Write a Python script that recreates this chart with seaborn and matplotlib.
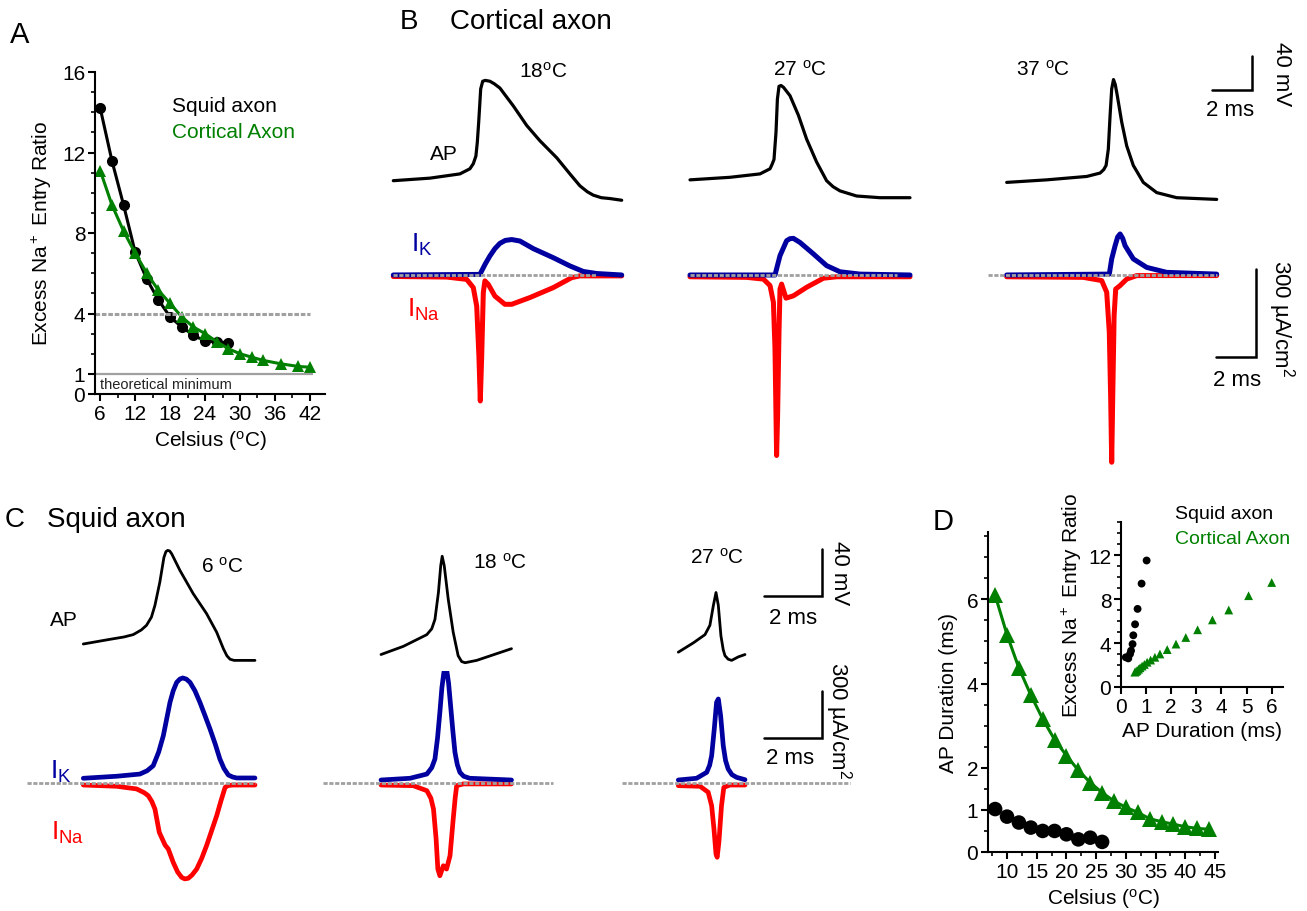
import matplotlib
matplotlib.use("Agg")
import matplotlib.pyplot as plt
import seaborn as sns
from matplotlib.ticker import MultipleLocator

# ---------------- data ----------------
# Panel A: excess Na+ entry ratio vs temperature
a_squid_temp = [6, 8, 10, 12, 14, 16, 18, 20, 22, 24, 26, 28]
a_squid_ratio = [14.2, 11.6, 9.4, 7.05, 5.7, 4.67, 3.83, 3.33, 2.92, 2.63, 2.58, 2.55]
a_ctx_temp = [6, 8, 10, 12, 14, 16, 18, 20, 22, 24, 26, 28, 30, 32, 34, 37, 40, 42]
a_ctx_ratio = [11.1, 9.4, 8.1, 7.0, 6.0, 5.15, 4.5, 3.83, 3.33, 3.0, 2.6, 2.25, 2.0,
               1.83, 1.67, 1.5, 1.37, 1.33]

# Panel D: AP duration vs temperature
d_squid_temp = [8, 10, 12, 14, 16, 18, 20, 22, 24, 26]
d_squid_dur = [1.02, 0.84, 0.70, 0.58, 0.5, 0.5, 0.42, 0.30, 0.34, 0.24]
d_ctx_temp = [8, 10, 12, 14, 16, 18, 20, 22, 24, 26, 28, 30, 32, 34, 36, 38, 40, 42, 44]
d_ctx_dur = [6.1, 5.16, 4.37, 3.73, 3.16, 2.67, 2.29, 1.94, 1.65, 1.41, 1.21, 1.06,
             0.94, 0.79, 0.72, 0.66, 0.60, 0.56, 0.54]

# Panel D inset: ratio vs AP duration
ins_squid_dur = [0.19, 0.29, 0.36, 0.40, 0.46, 0.49, 0.56, 0.66, 0.82, 1.02]
ins_squid_ratio = [2.7, 2.6, 3.0, 3.3, 3.9, 4.7, 5.7, 7.1, 9.4, 11.5]
ins_ctx_dur = [6.0, 5.08, 4.29, 3.64, 3.05, 2.58, 2.19, 1.84, 1.55, 1.35, 1.18, 1.04,
               0.93, 0.84, 0.76, 0.70, 0.64, 0.60, 0.55]
ins_ctx_ratio = [9.5, 8.3, 7.0, 6.1, 5.2, 4.5, 3.9, 3.4, 3.0, 2.7, 2.45, 2.25, 2.05,
                 1.9, 1.75, 1.62, 1.5, 1.42, 1.35]

# Panel B: cortical axon traces (ms, mV, uA/cm2)
b18_ap_t = [0, 1.83, 3.33, 3.83, 4.0, 4.13, 4.2, 4.27, 4.37, 4.47, 4.6, 4.83, 5.05,
            5.33, 6.0, 6.67, 7.33, 8.17, 8.83, 9.33, 9.7, 10.0, 10.4, 10.83, 11.42]
b18_ap_v = [-75, -72, -67, -61, -55, -46, -30, -6, 33, 42, 43, 42, 39, 34, 13, -10,
            -28, -48, -67, -81, -88, -92, -95, -96, -98]
b18_ik_t = [0, 4.33, 4.6, 4.83, 5.08, 5.33, 5.6, 5.92, 6.33, 7.0, 8.0, 8.83, 9.5, 10.17,
            11.42]
b18_ik = [0, 2, 38, 65, 90, 108, 118, 121, 116, 90, 59, 31, 12, 5, 0]
b18_ina_t = [0, 2.67, 3.67, 4.0, 4.17, 4.28, 4.35, 4.42, 4.5, 4.58, 4.75, 5.08, 5.58,
             5.92, 6.83, 8.0, 8.92, 9.33, 11.42]
b18_ina = [-5, -7, -15, -43, -106, -276, -430, -276, -60, -20, -32, -72, -100, -100,
           -77, -43, -9, -3, -3]

b27_ap_t = [0, 2, 3.5, 4, 4.1, 4.2, 4.3, 4.37, 4.45, 4.55, 4.67, 5.0, 5.42, 5.83, 6.33,
            6.83, 7.15, 7.5, 8.33, 9.5, 11.0]
b27_ap_v = [-74, -71, -67, -61, -56, -50, -18, 21, 36, 37, 35, 25, 2, -26, -53, -75,
            -82, -87, -93, -95, -95]
b27_ik_t = [0, 4.25, 4.5, 4.83, 5.0, 5.17, 5.5, 6.17, 6.83, 7.5, 8.5, 11.0]
b27_ik = [0, 0, 66, 117, 124, 125, 111, 72, 32, 11, 3, 0]
b27_ina_t = [0, 2.83, 3.67, 4.0, 4.17, 4.25, 4.3, 4.33, 4.38, 4.45, 4.5, 4.58, 4.8,
             5.17, 5.83, 6.67, 7.33, 11.0]
b27_ina = [-6, -8, -14, -36, -93, -252, -480, -616, -480, -195, -48, -31, -79, -71,
           -42, -11, -6, -6]

b37_ap_t = [0, 2.0, 4.0, 4.67, 4.85, 4.97, 5.08, 5.17, 5.25, 5.34, 5.43, 5.53, 5.75,
            6.0, 6.33, 6.83, 7.5, 8.5, 10.5]
b37_ap_v = [-77, -74, -70, -66, -62, -57, -38, 2, 33, 44, 38, 25, -6, -34, -57, -77,
            -89, -95, -97]
b37_ik_t = [0, 5.13, 5.25, 5.42, 5.55, 5.67, 5.8, 5.92, 6.33, 7.0, 8.0, 10.5]
b37_ik = [0, 3, 55, 100, 130, 140, 125, 100, 55, 26, 9, 3]
b37_ina_t = [0, 3.83, 4.75, 5.0, 5.13, 5.2, 5.25, 5.3, 5.37, 5.45, 5.67, 6.0, 6.5, 10.5]
b37_ina = [-6, -8, -19, -59, -195, -423, -639, -423, -139, -48, -36, -14, -2, -2]

# Panel C: squid axon traces
c6_ap_t = [0, 0.92, 1.4, 1.72, 2.0, 2.18, 2.35, 2.47, 2.64, 2.78, 2.85, 2.91, 2.98, 3.05,
           3.33, 3.79, 4.25, 4.6, 4.83, 4.95, 5.06, 5.2, 5.4, 5.92]
c6_ap_v = [-60, -56, -54, -52, -48, -44, -37, -27, -7, 14, 19, 20, 19.5, 17, 3, -17,
           -34, -50, -64, -70, -73, -74, -74, -74]
c6_ik_t = [0, 1.15, 1.95, 2.2, 2.41, 2.6, 2.76, 2.99, 3.1, 3.22, 3.33, 3.43, 3.55, 3.68,
           3.85, 4.02, 4.2, 4.37, 4.55, 4.71, 4.85, 5.0, 5.15, 5.29, 5.92]
c6_ik = [32, 45, 59, 80, 112, 200, 304, 517, 590, 644, 665, 672, 665, 644, 590, 517,
         430, 346, 250, 155, 95, 53, 40, 34, 34]
c6_ina_t = [0, 1.15, 1.84, 2.1, 2.24, 2.36, 2.47, 2.62, 2.82, 2.93, 3.10, 3.25, 3.39,
            3.5, 3.62, 3.75, 3.91, 4.08, 4.25, 4.6, 4.75, 4.89, 5.0, 5.17, 5.92]
c6_ina = [-11, -19, -36, -60, -79, -115, -164, -313, -394, -419, -504, -565, -600,
          -610, -606, -585, -547, -480, -398, -207, -110, -26, -14, -11, -11]

c18_ap_t = [0, 0.77, 1.58, 1.75, 1.86, 1.98, 2.06, 2.11, 2.18, 2.32, 2.49, 2.66, 2.78,
            2.9, 3.3, 4.5]
c18_ap_v = [-69, -62, -52, -47, -39, -16, 7, 15, 7, -22, -50, -70, -75, -76, -74, -64]
c18_ik_t = [0, 1.0, 1.58, 1.75, 1.86, 1.95, 2.03, 2.1, 2.17, 2.26, 2.33, 2.4, 2.48, 2.55,
            2.63, 2.72, 2.85, 3.06, 4.5]
c18_ik = [21, 32, 59, 100, 155, 290, 453, 610, 710, 729, 640, 495, 330, 198, 120, 70,
          45, 32, 21]
c18_ina_t = [0, 1.11, 1.58, 1.72, 1.81, 1.9, 1.96, 2.03, 2.15, 2.26, 2.38, 2.49, 2.56,
             2.61, 2.84, 4.5]
c18_ina = [-11, -15, -47, -95, -164, -355, -547, -590, -526, -547, -462, -228, -90,
           -15, -4, -4]

c27_ap_t = [0, 0.52, 0.92, 1.09, 1.21, 1.3, 1.38, 1.47, 1.55, 1.61, 1.72, 1.84, 2.07,
            2.3]
c27_ap_v = [-67, -59, -52, -44, -27, -16, -27, -53, -65, -70, -73, -74, -71, -69]
c27_ik_t = [0, 0.63, 0.98, 1.08, 1.15, 1.24, 1.32, 1.38, 1.46, 1.55, 1.63, 1.72, 1.85,
            2.01, 2.3]
c27_ik = [21, 32, 70, 115, 176, 346, 517, 538, 431, 240, 145, 91, 55, 38, 23]
c27_ina_t = [0, 0.75, 1.03, 1.15, 1.23, 1.3, 1.34, 1.4, 1.49, 1.57, 1.78, 2.3]
c27_ina = [-15, -19, -57, -143, -292, -451, -472, -376, -143, -26, -11, -11]

# zero-current reference line extents (ms)
b_zero_span = [(0, 10.2), (0, 10.35), (-0.93, 10.5)]
c_zero_span = [(-1.94, 5.92), (-2.0, 5.93), (-1.94, 5.92)]

b_temps = ["18$^o$C", "27 $^o$C", "37 $^o$C"]
c_temps = ["6 $^o$C", "18 $^o$C", "27 $^o$C"]

# ---------------- style ----------------
sns.set_style("ticks")
plt.rcParams["font.family"] = ["Liberation Sans", "DejaVu Sans"]
plt.rcParams["mathtext.default"] = "regular"
plt.rcParams["text.color"] = "black"
plt.rcParams["axes.labelcolor"] = "black"
plt.rcParams["axes.edgecolor"] = "black"
plt.rcParams["axes.linewidth"] = 1.5
for k in ["xtick", "ytick"]:
    plt.rcParams[k + ".major.width"] = 1.5
    plt.rcParams[k + ".minor.width"] = 1.2
    plt.rcParams[k + ".major.size"] = 5
    plt.rcParams[k + ".minor.size"] = 3
    plt.rcParams[k + ".labelsize"] = 15
    plt.rcParams[k + ".major.pad"] = 2
    plt.rcParams[k + ".color"] = "black"
    plt.rcParams[k + ".labelcolor"] = "black"

GREEN = "#008000"
BLUE = "#0000a0"
RED = "#ff0000"
GRAY = "#a0a0a0"
FS = 15

W, H = 1307, 912
fig = plt.figure(figsize=(W / 100, H / 100), dpi=100)


def px_axes(left, top, width, height):
    return fig.add_axes([left / W, 1 - (top + height) / H, width / W, height / H])


def trace_axes(x0, left, width, top, height, ppm, ppu, y_ref, v_ref):
    ax = px_axes(left, top, width, height)
    ax.set_xlim((left - x0) / ppm, (left + width - x0) / ppm)
    ax.set_ylim(v_ref - (top + height - y_ref) / ppu, v_ref + (y_ref - top) / ppu)
    ax.axis("off")
    return ax


def trace(ax, t, v, color, lw):
    sns.lineplot(x=t, y=v, ax=ax, color=color, linewidth=lw, estimator=None,
                 sort=False, legend=False)


def ftext(x, y, s, **kw):
    kw.setdefault("fontsize", FS)
    kw.setdefault("va", "center")
    kw.setdefault("color", "black")
    fig.text(x / W, 1 - y / H, s, **kw)


def scale_bar(ax, t, v, dt, dv):
    ax.plot([t - dt, t, t], [v, v, v + dv], color="black", lw=1.8,
            solid_joinstyle="miter", clip_on=False)


# ---------------- Panel A ----------------
axA = px_axes(95, 73, 230, 322)
sns.lineplot(x=a_squid_temp, y=a_squid_ratio, ax=axA, color="black", marker="o",
             markersize=8, markeredgewidth=0, linewidth=2.2)
sns.lineplot(x=a_ctx_temp, y=a_ctx_ratio, ax=axA, color=GREEN, marker="^",
             markersize=9, markeredgewidth=0, linewidth=2.2)
axA.hlines(4, 5.1, 42, color=GRAY, lw=2.2, linestyles=(0, (1.5, 0.6)))
axA.hlines(1, 5.1, 42.6, color=GRAY, lw=1.6)
axA.text(6.0, 0.5, "theoretical minimum", fontsize=10.5, color="#222222", va="center")
axA.set_xlim(5.1, 44.6)
axA.set_ylim(0, 16)
axA.set_xticks([6, 12, 18, 24, 30, 36, 42])
axA.set_yticks([0, 1, 4, 8, 12, 16])
axA.xaxis.set_minor_locator(MultipleLocator(3))
axA.yaxis.set_minor_locator(MultipleLocator(1))
axA.set_xlabel("Celsius ($^o$C)", fontsize=FS)
axA.set_ylabel("Excess Na$^+$ Entry Ratio", fontsize=FS, labelpad=6)
sns.despine(ax=axA)
ftext(172, 106, "Squid axon")
ftext(172, 133, "Cortical Axon", color=GREEN)
ftext(10, 35, "A", fontsize=21)

# ---------------- Panel B ----------------
ftext(400, 22, "B", fontsize=20)
ftext(450, 22, "Cortical axon", fontsize=20)
b_cols = [
    (393.3, b18_ap_t, b18_ap_v, b18_ik_t, b18_ik, b18_ina_t, b18_ina, 300),
    (690.0, b27_ap_t, b27_ap_v, b27_ik_t, b27_ik, b27_ina_t, b27_ina, 300),
    (1006.7, b37_ap_t, b37_ap_v, b37_ik_t, b37_ik, b37_ina_t, b37_ina, 333),
]
b_temp_pos = [(543, 72), (800, 70), (1043, 70)]
for i, (x0, apt, apv, ikt, ik, inat, ina, wd) in enumerate(b_cols):
    ax_v = trace_axes(x0, x0 - 40, wd, 50, 170, 20, 0.85, 181.7, -75)
    trace(ax_v, apt, apv, "black", 2.3)
    ax_i = trace_axes(x0, x0 - 40, wd, 222, 250, 20, 0.293, 276, 0)
    trace(ax_i, inat, ina, RED, 3.6)
    trace(ax_i, ikt, ik, BLUE, 3.6)
    z0, z1 = b_zero_span[i]
    ax_i.hlines(0, z0, z1, color=GRAY, lw=2.0, linestyles=(0, (1.5, 0.6)), zorder=5)
    ftext(b_temp_pos[i][0], b_temp_pos[i][1], b_temps[i], ha="center")
    if i == 2:
        scale_bar(ax_v, 12.27, 31.7, 2, 40)
        scale_bar(ax_i, 12.47, -280, 2, 300)
ftext(430, 155, "AP")
ftext(411, 245, "I$_K$", color=BLUE, fontsize=19)
ftext(407, 310, "I$_{Na}$", color=RED, fontsize=19)
ftext(1230, 111, "2 ms", ha="center", fontsize=16)
ftext(1282, 74, "40 mV", ha="center", rotation=270, fontsize=16)
ftext(1237, 381, "2 ms", ha="center", fontsize=16)
ftext(1281, 318, "300 µA/cm$^2$", ha="center", rotation=270, fontsize=16)

# ---------------- Panel C ----------------
ftext(5, 520, "C", fontsize=20)
ftext(47, 520, "Squid axon", fontsize=20)
c_cols = [
    (83.3, c6_ap_t, c6_ap_v, c6_ik_t, c6_ik, c6_ina_t, c6_ina, 240),
    (381.0, c18_ap_t, c18_ap_v, c18_ik_t, c18_ik, c18_ina_t, c18_ina, 240),
    (678.3, c27_ap_t, c27_ap_v, c27_ik_t, c27_ik, c27_ina_t, c27_ina, 252),
]
c_temp_pos = [(222, 567), (500, 563), (717, 558)]
for i, (x0, apt, apv, ikt, ik, inat, ina, wd) in enumerate(c_cols):
    ax_v = trace_axes(x0, x0 - 60, wd, 530, 140, 29, 1.17, 645, -60)
    trace(ax_v, apt, apv, "black", 2.0)
    ax_i = trace_axes(x0, x0 - 60, wd, 672, 230, 29, 1 / 6.38, 784.3, 0)
    trace(ax_i, inat, ina, RED, 3.4)
    trace(ax_i, ikt, ik, BLUE, 3.4)
    z0, z1 = c_zero_span[i]
    ax_i.hlines(0, z0, z1, color=GRAY, lw=2.0, linestyles=(0, (1.5, 0.6)), zorder=5)
    ftext(c_temp_pos[i][0], c_temp_pos[i][1], c_temps[i], ha="center")
    if i == 2:
        scale_bar(ax_v, 4.96, -19, 2, 40)
        scale_bar(ax_i, 4.96, 289, 2, 300)
ftext(50, 620, "AP")
ftext(50, 772, "I$_K$", color=BLUE, fontsize=19)
ftext(51, 833, "I$_{Na}$", color=RED, fontsize=19)
ftext(793, 618, "2 ms", ha="center", fontsize=16)
ftext(840, 573, "40 mV", ha="center", rotation=270, fontsize=16)
ftext(790, 759, "2 ms", ha="center", fontsize=16)
ftext(838, 720, "300 µA/cm$^2$", ha="center", rotation=270, fontsize=16)

# ---------------- Panel D ----------------
axD = px_axes(988, 533, 230, 320)
sns.lineplot(x=d_ctx_temp, y=d_ctx_dur, ax=axD, color=GREEN, marker="^",
             markersize=11, markeredgewidth=0, linewidth=2.2)
sns.scatterplot(x=d_squid_temp, y=d_squid_dur, ax=axD, color="black", s=110,
                edgecolor="none")
axD.set_xlim(6.8, 45.5)
axD.set_ylim(0, 7.6)
axD.set_xticks([10, 15, 20, 25, 30, 35, 40, 45])
axD.set_yticks([0, 1, 2, 4, 6])
axD.xaxis.set_minor_locator(MultipleLocator(2.5))
axD.yaxis.set_minor_locator(MultipleLocator(0.5))
axD.set_xlabel("Celsius ($^o$C)", fontsize=FS)
axD.set_ylabel("AP Duration (ms)", fontsize=FS, labelpad=6)
sns.despine(ax=axD)
ftext(933, 522, "D", fontsize=21)

axI = px_axes(1121, 523, 162, 165)
sns.scatterplot(x=ins_squid_dur, y=ins_squid_ratio, ax=axI, color="black", s=32,
                edgecolor="none")
sns.scatterplot(x=ins_ctx_dur, y=ins_ctx_ratio, ax=axI, color=GREEN, marker="^",
                s=40, edgecolor="none")
axI.set_xlim(0, 6.45)
axI.set_ylim(0, 15)
axI.set_xticks([0, 1, 2, 3, 4, 5, 6])
axI.set_yticks([0, 4, 8, 12])
axI.yaxis.set_minor_locator(MultipleLocator(1))
axI.set_xlabel("AP Duration (ms)", fontsize=FS)
axI.set_ylabel("Excess Na$^+$ Entry Ratio", fontsize=FS, labelpad=3)
sns.despine(ax=axI)
ftext(1175, 515, "Squid axon", fontsize=14)
ftext(1175, 540, "Cortical Axon", color=GREEN, fontsize=14)

fig.savefig("out.png", dpi=100)
